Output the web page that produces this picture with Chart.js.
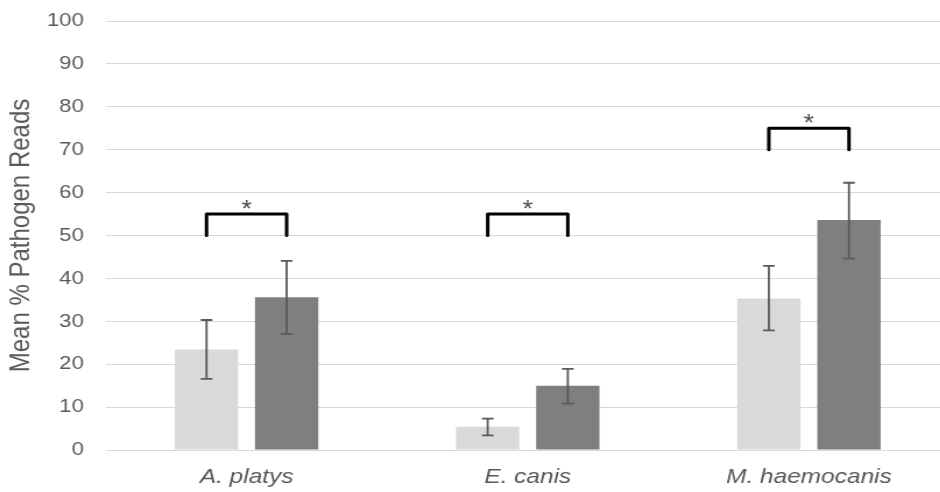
<!DOCTYPE html>
<html>
<head>
<meta charset="utf-8">
<script src="https://cdn.jsdelivr.net/npm/chart.js@4/dist/chart.umd.min.js"></script>
<style>
  html, body { margin: 0; padding: 0; background: #fff; overflow: hidden; width: 940px; height: 492px; }
  /* the chart is drawn narrower and widened horizontally */
  #wrap { width: 816px; height: 492px; transform: scaleX(1.165); transform-origin: 0 0; }
</style>
</head>
<body>
<div id="wrap"><canvas id="c" width="816" height="492"></canvas></div>
<script>
// Pathogens on the x axis
const categories = ['A. platys', 'E. canis', 'M. haemocanis'];

// Mean % pathogen reads for the two groups
const lightMeans = [23.4, 5.4, 35.3];
const darkMeans  = [35.6, 15.0, 53.6];

// Error bar extents (low / high)
const lightLow  = [16.6, 3.4, 27.9];
const lightHigh = [30.3, 7.3, 42.9];
const darkLow   = [27.0, 10.8, 44.6];
const darkHigh  = [44.1, 18.9, 62.3];

// Significance brackets: top and foot levels
const bracketTop  = [55, 55, 75];
const bracketFoot = [50, 50, 70];
const bracketMark = ['*', '*', '*'];

// y axis ticks
const yTicks = [0, 10, 20, 30, 40, 50, 60, 70, 80, 90, 100];

const FONT = '"Liberation Sans", Arial, sans-serif';
const GREY_TEXT = '#595959';

const errorBars = {
  id: 'errorBars',
  afterDatasetsDraw(chart) {
    const ctx = chart.ctx;
    const y = chart.scales.y;
    const lows = [lightLow, darkLow];
    const highs = [lightHigh, darkHigh];
    ctx.save();
    ctx.strokeStyle = '#5a5a5a';
    ctx.lineWidth = 1.8;
    chart.data.datasets.forEach((ds, i) => {
      const meta = chart.getDatasetMeta(i);
      meta.data.forEach((bar, j) => {
        const x = bar.x;
        const y1 = y.getPixelForValue(lows[i][j]);
        const y2 = y.getPixelForValue(highs[i][j]);
        const cap = 5;
        ctx.beginPath();
        ctx.moveTo(x, y1); ctx.lineTo(x, y2);
        ctx.moveTo(x - cap, y1); ctx.lineTo(x + cap, y1);
        ctx.moveTo(x - cap, y2); ctx.lineTo(x + cap, y2);
        ctx.stroke();
      });
    });
    ctx.restore();
  }
};

const brackets = {
  id: 'brackets',
  afterDatasetsDraw(chart) {
    const ctx = chart.ctx;
    const y = chart.scales.y;
    const m0 = chart.getDatasetMeta(0);
    const m1 = chart.getDatasetMeta(1);
    ctx.save();
    categories.forEach((c, j) => {
      const x1 = m0.data[j].x;
      const x2 = m1.data[j].x;
      const yt = y.getPixelForValue(bracketTop[j]);
      const yf = y.getPixelForValue(bracketFoot[j]);
      ctx.strokeStyle = '#000';
      ctx.lineWidth = 3;
      ctx.lineJoin = 'round';
      ctx.lineCap = 'round';
      ctx.beginPath();
      ctx.moveTo(x1, yf);
      ctx.lineTo(x1, yt);
      ctx.lineTo(x2, yt);
      ctx.lineTo(x2, yf);
      ctx.stroke();
      ctx.fillStyle = '#4d4d4d';
      ctx.font = '23px ' + FONT;
      ctx.textAlign = 'center';
      ctx.textBaseline = 'alphabetic';
      ctx.fillText(bracketMark[j], (x1 + x2) / 2, yt + 3);
    });
    ctx.restore();
  }
};

new Chart(document.getElementById('c'), {
  type: 'bar',
  data: {
    labels: categories,
    datasets: [
      { label: 'Group 1', data: lightMeans, backgroundColor: '#d9d9d9', borderWidth: 0 },
      { label: 'Group 2', data: darkMeans, backgroundColor: '#7f7f7f', borderWidth: 0 }
    ]
  },
  options: {
    responsive: false,
    animation: false,
    devicePixelRatio: 1,
    layout: { padding: { top: 21, right: 1, bottom: 0, left: 0 } },
    plugins: { legend: { display: false }, tooltip: { enabled: false } },
    datasets: { bar: { categoryPercentage: 0.57, barPercentage: 0.79 } },
    scales: {
      x: {
        grid: { display: false, drawTicks: false },
        border: { display: false },
        ticks: {
          color: GREY_TEXT,
          font: { family: FONT, size: 21, style: 'italic' },
          padding: 15,
          maxRotation: 0
        },
        afterFit(scale) { scale.height = 42; }
      },
      y: {
        min: 0,
        max: 100,
        afterBuildTicks(scale) { scale.ticks = yTicks.map(v => ({ value: v })); },
        grid: { color: '#d9d9d9', lineWidth: 1, drawTicks: true, tickLength: 19, tickColor: 'rgba(0,0,0,0)' },
        border: { display: false },
        ticks: {
          color: GREY_TEXT,
          font: { family: FONT, size: 19 },
          padding: 0
        },
        title: {
          display: true,
          text: 'Mean % Pathogen Reads',
          color: GREY_TEXT,
          font: { family: FONT, size: 24 },
          padding: { top: 4, bottom: 0 }
        },
        afterFit(scale) { scale.width = 91; }
      }
    }
  },
  plugins: [errorBars, brackets]
});
</script>
</body>
</html>
